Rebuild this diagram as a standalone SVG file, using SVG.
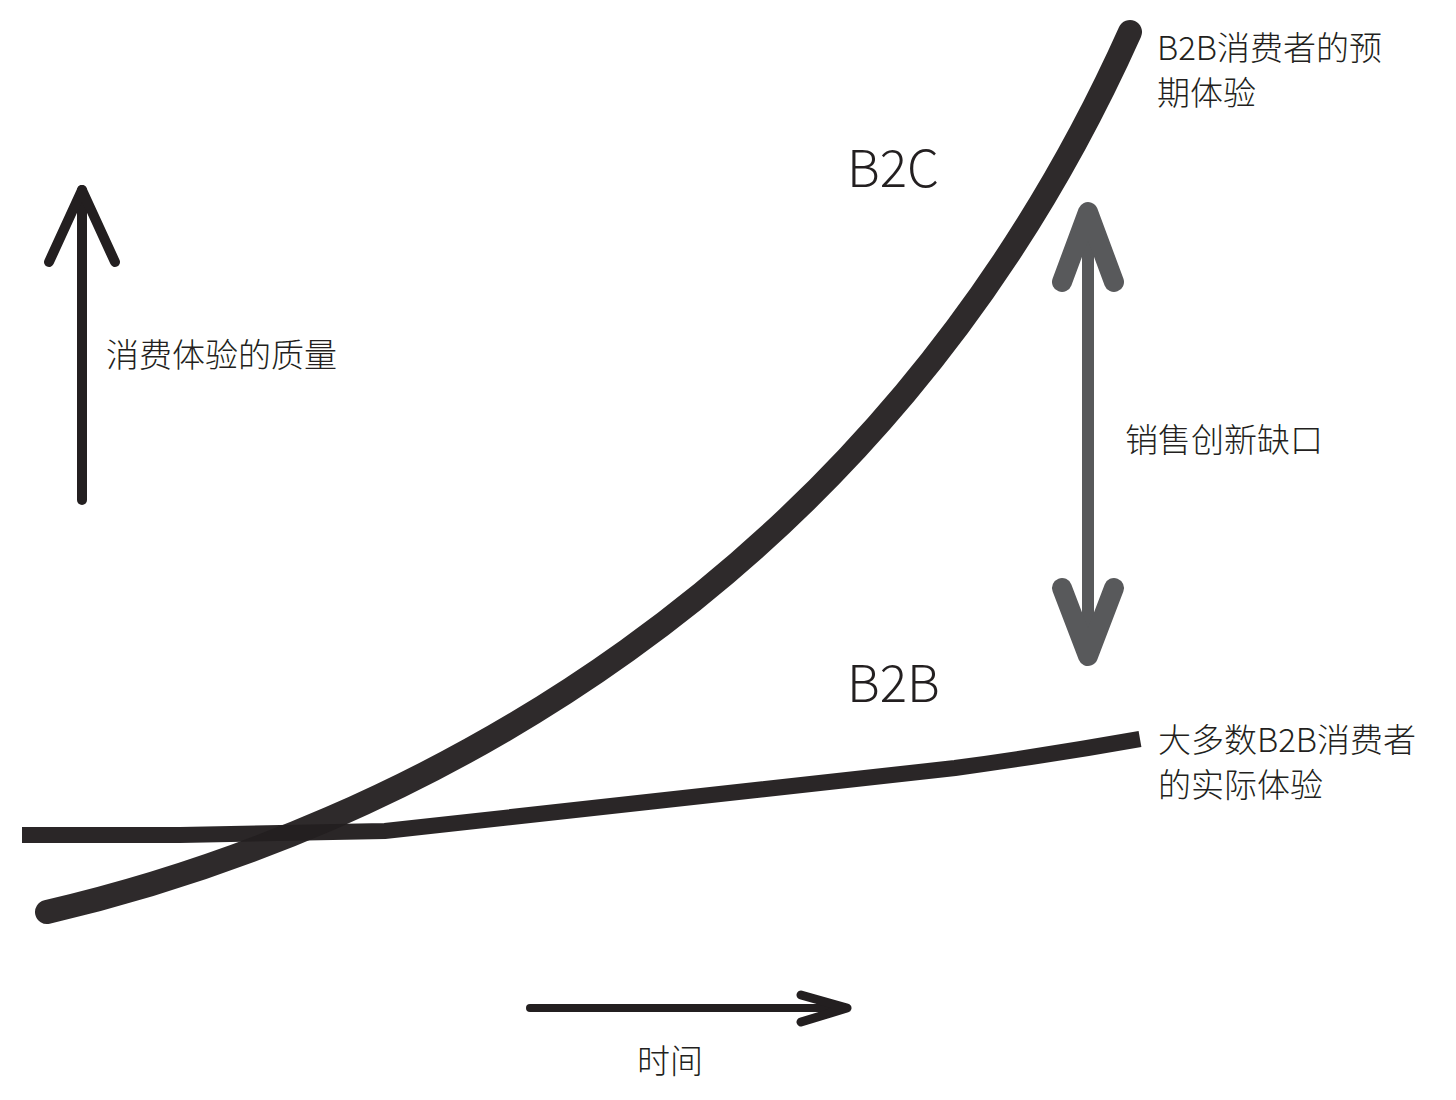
<svg xmlns="http://www.w3.org/2000/svg" width="1456" height="1100" viewBox="0 0 1456 1100">
<style>
.t{font-family:"Noto Sans CJK SC","Noto Sans",sans-serif;fill:#231f20;font-size:33px;font-weight:300}
.big{font-family:"Noto Sans CJK SC","Noto Sans",sans-serif;fill:#231f20;font-size:51px;font-weight:300}
.ln{fill:none;stroke:#231f20;stroke-linecap:round;stroke-linejoin:round}
.gap{fill:none;stroke:#58595b;stroke-linecap:round;stroke-linejoin:round}
</style>
<rect width="1456" height="1100" fill="#fff"/>
<g id="connectors">
<g id="b2b-line" opacity="0.97">
<path d="M22,835 L180,835 L385,831 L955,768 Q1050,755 1140,739" fill="none" stroke="#231f20" stroke-width="16"/>
</g>
<g id="b2c-curve" opacity="0.95">
<path class="ln" d="M47,912 C400,830 880,590 1130,32" stroke-width="24" stroke="#1f1b1c"/>
</g>
<g id="y-axis">
<path class="ln" d="M82,500 L82,190" stroke-width="10"/>
<path class="ln" d="M49,262 L82,190 L115,262" stroke-width="10"/>
</g>
<g id="x-axis">
<path class="ln" d="M530,1008 L846,1008" stroke-width="8"/>
<path class="ln" d="M801,995 L847,1008 L801,1022" stroke-width="9"/>
</g>
<g id="gap-arrow">
<path class="gap" d="M1088,215 L1088,650" stroke-width="12"/>
<path class="gap" d="M1062,282 L1088,212 L1114,282" stroke-width="20"/>
<path class="gap" d="M1062,588 L1088,656 L1114,588" stroke-width="20"/>
</g>
</g>
<g id="label-b2c"><text class="big" x="847" y="187">B2C</text></g>
<g id="label-b2b"><text class="big" x="847" y="702">B2B</text></g>
<g id="label-expected"><text class="t" x="1157" y="60">B2B消费者的预</text><text class="t" x="1157" y="105">期体验</text></g>
<g id="label-quality"><text class="t" x="106" y="367">消费体验的质量</text></g>
<g id="label-gap"><text class="t" x="1125" y="452">销售创新缺口</text></g>
<g id="label-actual"><text class="t" x="1158" y="752">大多数B2B消费者</text><text class="t" x="1158" y="797">的实际体验</text></g>
<g id="label-time"><text class="t" x="637" y="1073">时间</text></g>
</svg>
